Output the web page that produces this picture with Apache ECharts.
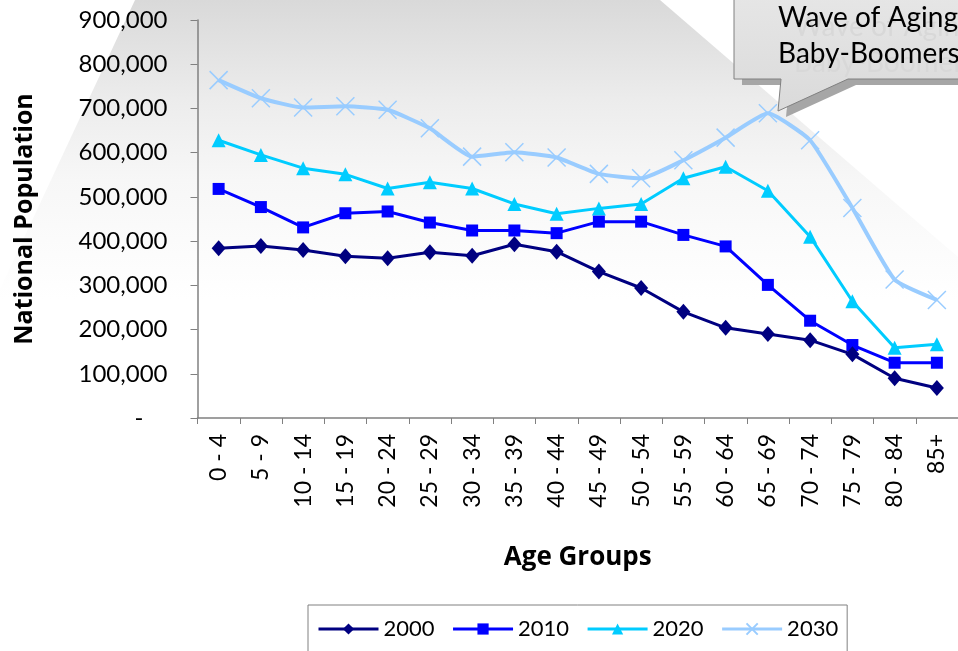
<!DOCTYPE html>
<html>
<head>
<meta charset="utf-8">
<script src="https://cdn.jsdelivr.net/npm/echarts@6/dist/echarts.min.js"></script>
<style>
html,body{margin:0;padding:0;background:#fff;}
#chart{width:958px;height:651px;}
</style>
</head>
<body>
<div id="chart"></div>
<script>
var categories = ['0 - 4','5 - 9','10 - 14','15 - 19','20 - 24','25 - 29','30 - 34','35 - 39','40 - 44','45 - 49','50 - 54','55 - 59','60 - 64','65 - 69','70 - 74','75 - 79','80 - 84','85+'];
var s2000 = [384000,389000,380000,366000,361000,375000,367000,393000,376000,331000,294000,240000,204000,190000,176000,144000,90000,68000];
var s2010 = [518000,477000,431000,463000,467000,442000,424000,424000,418000,444000,444000,414000,388000,301000,220000,165000,125000,125000];
var s2020 = [628000,595000,565000,551000,519000,533000,519000,484000,462000,474000,484000,542000,568000,514000,410000,264000,159000,167000];
var s2030 = [764000,723000,702000,705000,697000,655000,591000,601000,589000,552000,542000,583000,634000,689000,628000,475000,313000,267000];
var seriesNames = ['2000','2010','2020','2030'];
var yTicks = {min:0, max:900000, interval:100000};
var calloutLines = ['Wave of Aging', 'Baby-Boomers'];

var FONT = 'Lato, "DejaVu Sans", sans-serif';
var BFONT = '"Open Sans", Lato, sans-serif';
var chart = echarts.init(document.getElementById('chart'), null, {renderer:'canvas'});

function fmt(v){
  if (v === 0) return '{d|-}';
  return String(v).replace(/\B(?=(\d{3})+(?!\d))/g, ',');
}

var xMark = 'path://M0,0L10,10M10,0L0,10';

var option = {
  backgroundColor: '#ffffff',
  animation: false,
  textStyle: {fontFamily: FONT},
  graphic: [
    {
      type: 'polygon', z: -10, silent: true,
      shape: {points: [[135,0],[660,0],[1008,300],[-5,300]]},
      style: {fill: new echarts.graphic.LinearGradient(0,0,0,1,[
        {offset:0, color:'#d9d9d9'},
        {offset:0.33, color:'#ececec'},
        {offset:0.6, color:'#f7f7f7'},
        {offset:1, color:'#ffffff'}
      ])}
    },
    {
      type: 'polygon', z: 100, silent: true,
      shape: {points: [[742,-5],[742,85],[789,85],[786,117],[856,85],[980,85],[980,-5]]},
      style: {fill: '#a6a6a6'}
    },
    {
      type: 'polygon', z: 101, silent: true,
      shape: {points: [[734,-5],[734,79],[781,79],[778,111],[848,79],[975,79],[975,-5]]},
      style: {fill: new echarts.graphic.LinearGradient(0,0,0,1,[
        {offset:0, color:'#e6e6e6'},
        {offset:1, color:'#dadada'}
      ]), stroke: '#808080', lineWidth: 1}
    },
    {
      type: 'text', z: 102, silent: true, left: 794, top: 9,
      style: {text: calloutLines.join('\n'), fill: '#d8d8d8', font: '28px ' + FONT, lineHeight: 36}
    },
    {
      type: 'text', z: 103, silent: true, left: 778, top: 0,
      style: {text: calloutLines.join('\n'), fill: '#000000', font: '28px ' + FONT, lineHeight: 36}
    }
  ],
  legend: {
    data: seriesNames,
    selectedMode: false,
    left: 308, top: 605,
    padding: [13, 9, 30, 9],
    borderColor: '#808080', borderWidth: 1,
    itemWidth: 60, itemHeight: 14, itemGap: 17,
    lineStyle: {width: 3},
    textStyle: {fontSize: 22, color: '#000', fontFamily: FONT}
  },
  grid: {left: 197.5, right: -6, top: 20, bottom: 233, containLabel: false},
  xAxis: {
    type: 'category',
    data: categories,
    boundaryGap: true,
    name: 'Age Groups',
    nameLocation: 'middle',
    nameGap: 127,
    nameTextStyle: {fontSize: 26, fontWeight: 'bold', color: '#000', fontFamily: BFONT},
    axisLine: {lineStyle: {color: '#808080', width: 1.5}},
    axisTick: {show: true, inside: false, length: 6, alignWithLabel: false, lineStyle: {color: '#808080'}},
    axisLabel: {rotate: 90, fontSize: 23, color: '#000', margin: 16, interval: 0, fontFamily: FONT},
    splitLine: {show: false}
  },
  yAxis: {
    type: 'value',
    min: yTicks.min, max: yTicks.max, interval: yTicks.interval,
    name: 'National Population',
    nameLocation: 'middle',
    nameGap: 160,
    nameTextStyle: {fontSize: 25, fontWeight: 'bold', color: '#000', fontFamily: BFONT},
    axisLine: {show: true, lineStyle: {color: '#808080', width: 1.5}},
    axisTick: {show: true, inside: false, length: 7, lineStyle: {color: '#808080'}},
    axisLabel: {formatter: fmt, fontSize: 24, color: '#000', margin: 30, fontFamily: FONT,
      rich: {d: {fontSize: 24, color: '#000', padding: [0, 24, 0, 0], fontFamily: FONT}}},
    splitLine: {show: false}
  },
  series: [
    {name: '2000', type: 'line', data: s2000, symbol: 'diamond', symbolSize: [14, 16],
      lineStyle: {color: '#000080', width: 3}, itemStyle: {color: '#000080'}, z: 5},
    {name: '2010', type: 'line', data: s2010, symbol: 'rect', symbolSize: 12,
      lineStyle: {color: '#0000FF', width: 3}, itemStyle: {color: '#0000FF'}, z: 4},
    {name: '2020', type: 'line', data: s2020, symbol: 'triangle', symbolSize: 14,
      lineStyle: {color: '#00CCFF', width: 3}, itemStyle: {color: '#00CCFF'}, z: 3},
    {name: '2030', type: 'line', data: s2030, symbol: xMark, symbolSize: 18, smooth: 0.15,
      lineStyle: {color: '#99CCFF', width: 4},
      itemStyle: {color: '#99CCFF', borderColor: '#99CCFF', borderWidth: 1.5}, z: 2}
  ]
};
chart.setOption(option);
</script>
</body>
</html>
